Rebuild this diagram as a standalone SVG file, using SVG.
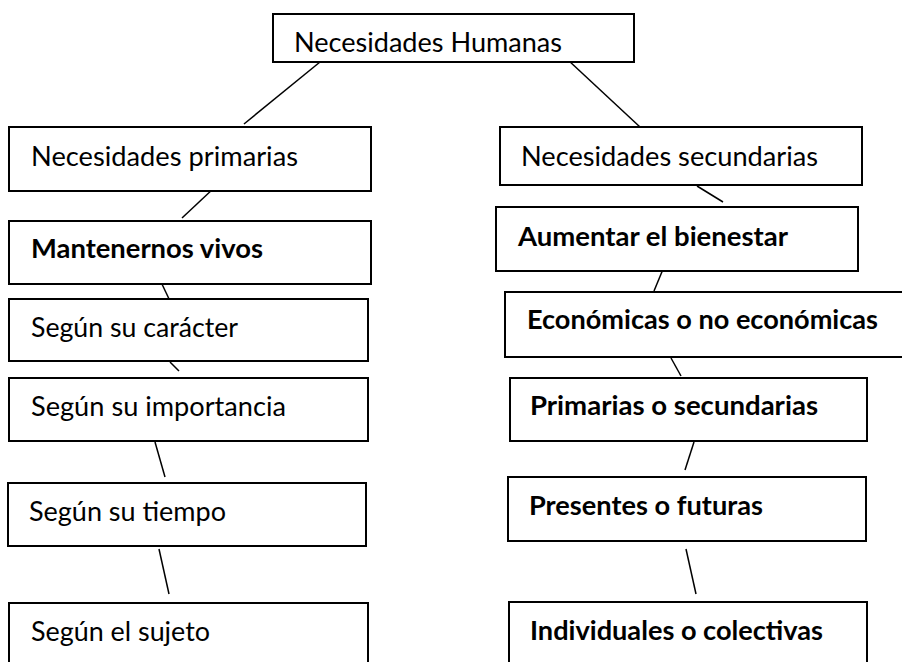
<svg xmlns="http://www.w3.org/2000/svg" width="902" height="662" viewBox="0 0 902 662">
<style>
.box{fill:#fff;stroke:#000;stroke-width:2}
.t{font-family:Lato,"Open Sans","Liberation Sans",sans-serif;font-size:27px;fill:#000}
.b{font-weight:bold}
.c{stroke:#000;stroke-width:1.5;fill:none}
</style>
<rect width="902" height="662" fill="#fff"/>
<g id="connectors">
<line class="c" x1="320" y1="62" x2="244" y2="124"/>
<line class="c" x1="568" y1="60" x2="640" y2="127"/>
<line class="c" x1="214" y1="188" x2="182" y2="218"/>
<line class="c" x1="697" y1="186" x2="723" y2="202"/>
<line class="c" x1="161" y1="282" x2="170" y2="301"/>
<line class="c" x1="666" y1="262" x2="654" y2="291"/>
<line class="c" x1="170" y1="362" x2="179" y2="371"/>
<line class="c" x1="671" y1="358" x2="681" y2="376"/>
<line class="c" x1="155" y1="442" x2="165" y2="477"/>
<line class="c" x1="694" y1="442" x2="685" y2="470"/>
<line class="c" x1="159" y1="549" x2="169" y2="594"/>
<line class="c" x1="686" y1="549" x2="696" y2="594"/>
</g>
<g id="n-humanas"><rect class="box" x="273" y="14" width="361" height="48"/><text class="t" x="294" y="52" textLength="268" lengthAdjust="spacingAndGlyphs">Necesidades Humanas</text></g>
<g id="n-primarias"><rect class="box" x="9" y="127" width="362" height="64"/><text class="t" x="31" y="166" textLength="267" lengthAdjust="spacingAndGlyphs">Necesidades primarias</text></g>
<g id="n-secundarias"><rect class="box" x="500" y="127" width="362" height="58"/><text class="t" x="521" y="166" textLength="297" lengthAdjust="spacingAndGlyphs">Necesidades secundarias</text></g>
<g id="n-mantenernos"><rect class="box" x="9" y="221" width="362" height="63"/><text class="t b" x="31" y="258" textLength="232" lengthAdjust="spacingAndGlyphs">Mantenernos vivos</text></g>
<g id="n-aumentar"><rect class="box" x="496" y="207" width="362" height="64"/><text class="t b" x="518" y="246" textLength="270" lengthAdjust="spacingAndGlyphs">Aumentar el bienestar</text></g>
<g id="n-caracter"><rect class="box" x="9" y="299" width="359" height="62"/><text class="t" x="31" y="337" textLength="207" lengthAdjust="spacingAndGlyphs">Según su carácter</text></g>
<g id="n-economicas"><rect class="box" x="505" y="292" width="410" height="65"/><text class="t b" x="527" y="329" textLength="351" lengthAdjust="spacingAndGlyphs">Económicas o no económicas</text></g>
<g id="n-importancia"><rect class="box" x="9" y="378" width="359" height="63"/><text class="t" x="31" y="416" textLength="255" lengthAdjust="spacingAndGlyphs">Según su importancia</text></g>
<g id="n-prim-sec"><rect class="box" x="510" y="378" width="357" height="63"/><text class="t b" x="530" y="415" textLength="288" lengthAdjust="spacingAndGlyphs">Primarias o secundarias</text></g>
<g id="n-tiempo"><rect class="box" x="8" y="483" width="358" height="63"/><text class="t" x="29" y="521" textLength="197" lengthAdjust="spacingAndGlyphs">Según su tiempo</text></g>
<g id="n-presentes"><rect class="box" x="508" y="477" width="358" height="64"/><text class="t b" x="529" y="515" textLength="234" lengthAdjust="spacingAndGlyphs">Presentes o futuras</text></g>
<g id="n-sujeto"><rect class="box" x="9" y="603" width="359" height="70"/><text class="t" x="31" y="641" textLength="179" lengthAdjust="spacingAndGlyphs">Según el sujeto</text></g>
<g id="n-individuales"><rect class="box" x="509" y="602" width="358" height="70"/><text class="t b" x="530" y="640" textLength="293" lengthAdjust="spacingAndGlyphs">Individuales o colectivas</text></g>
</svg>
